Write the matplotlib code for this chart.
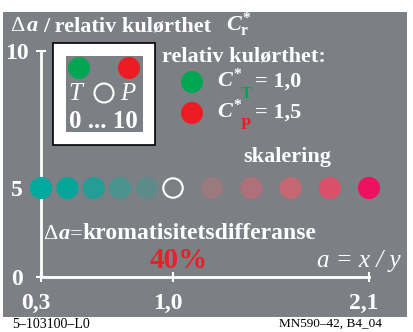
import numpy as np
import matplotlib
matplotlib.use("Agg")
import matplotlib.pyplot as plt
from matplotlib.patches import Rectangle, Circle
from matplotlib import font_manager

# ---------------- data ----------------
x_values = [0.3, 0.44, 0.58, 0.72, 0.86, 1.0, 1.22, 1.44, 1.66, 1.88, 2.1]
y_row = [5] * len(x_values)
dot_colors = ["#00a99d", "#05a59a", "#249d96", "#4a938f", "#5f8a8a", "none",
              "#9a7a7e", "#ae717a", "#c46973", "#d9506a", "#ee1160"]
x_ticks = [0.3, 1.0, 2.1]
x_tick_labels = ["0,3", "1,0", "2,1"]
y_ticks = [0, 5, 10]
y_tick_labels = ["0", "5", "10"]
x_knots = [0.3, 1.0, 2.1]      # piecewise axis scale knots
x_knot_pos = [0, 132, 328]
y_knots = [0, 5, 10]
y_knot_pos = [0, 89, 226]

W, H = 413, 332
BG = "#7c7f84"

names = {f.name for f in font_manager.fontManager.ttflist}
serif_list = [n for n in ["Liberation Serif", "Nimbus Roman", "Times New Roman", "DejaVu Serif"] if n in names]
SF = serif_list[0] if serif_list else "DejaVu Serif"
plt.rcParams["font.family"] = "serif"
plt.rcParams["font.serif"] = serif_list + ["DejaVu Serif"]
plt.rcParams["mathtext.fontset"] = "custom"
plt.rcParams["mathtext.rm"] = SF + ":bold"
plt.rcParams["mathtext.it"] = SF + ":italic:bold"
plt.rcParams["mathtext.bf"] = SF + ":bold"

fig = plt.figure(figsize=(W / 100, H / 100), dpi=100)
fig.patch.set_facecolor("white")

# overlay in pixel coords
ov = fig.add_axes([0, 0, 1, 1], zorder=0)
ov.set_xlim(0, W)
ov.set_ylim(H, 0)
ov.axis("off")
ov.add_patch(Rectangle((3, 12), 404, 305, facecolor=BG, edgecolor="none"))

def T(x, y, s, size=16, color="white", weight="bold", style="normal", ha="left", va="baseline", **kw):
    ov.text(x, y, s, fontsize=size, color=color, fontweight=weight, fontstyle=style,
            ha=ha, va=va, **kw)

# title
T(10, 31, "Δ", weight="normal")
T(27, 31, "a", style="italic")
T(43, 31, "/ relativ kulørthet")
T(226, 31, r"$C^{*}_{\mathrm{r}}$")

# legend box
ov.add_patch(Rectangle((53, 43), 102, 102, facecolor="white", edgecolor="black", lw=1.2))
ov.add_patch(Rectangle((66, 56), 77, 76, facecolor=BG, edgecolor="none"))
ov.add_patch(Circle((79, 68), 11, facecolor="#00a651", edgecolor="none"))
ov.add_patch(Circle((129, 68), 11, facecolor="#ed1c24", edgecolor="none"))
ov.add_patch(Circle((104, 93), 9.5, facecolor="none", edgecolor="white", lw=1.5))
T(75, 100, "T", size=18, style="italic", weight="normal", ha="center")
T(128, 100, "P", size=18, style="italic", weight="normal", ha="center")
T(103, 128, "0 ... 10", size=18, ha="center")

# legend right
T(162, 62, "relativ kulørthet:")
ov.add_patch(Circle((192, 82), 11, facecolor="#00a651", edgecolor="none"))
ov.add_patch(Circle((192, 113), 11, facecolor="#ed1c24", edgecolor="none"))
for yb, sub, col, val in [(87, "T", "#00a651", "= 1,0"), (118, "P", "#ed1c24", "= 1,5")]:
    T(217, yb, r"$C^{*}$")
    T(246, yb + 11, sub, size=12, color=col, ha="center")
    T(255, yb, val)

T(243, 162, "skalering")
T(43, 239, "Δ", weight="normal")
T(59, 239, "a", style="italic")
T(70, 239, "=", weight="normal")
T(82, 239, "kromatisitetsdifferanse", size=17)
T(150, 268, "40%", size=21, color="#e8202a")
T(317, 267, "a = x / y", size=18, style="italic", weight="normal")

T(12, 328, "5–103100–L0", size=10, weight="normal", color="black")
T(382, 327, "MN590–42, B4_04", size=9.5, weight="normal", color="black", ha="right")

# main axes
ax = fig.add_axes([41 / W, 55 / H, 328 / W, 226 / H], zorder=1)
ax.patch.set_alpha(0)
fx = lambda v: np.interp(v, x_knots, x_knot_pos)
ix = lambda v: np.interp(v, x_knot_pos, x_knots)
fy = lambda v: np.interp(v, y_knots, y_knot_pos)
iy = lambda v: np.interp(v, y_knot_pos, y_knots)
ax.set_xscale("function", functions=(fx, ix))
ax.set_yscale("function", functions=(fy, iy))
ax.set_xlim(0.3, 2.1)
ax.set_ylim(0, 10)
for s in ["top", "right"]:
    ax.spines[s].set_visible(False)
for s in ["left", "bottom"]:
    ax.spines[s].set_color("white")
    ax.spines[s].set_linewidth(2)
ax.set_xticks(x_ticks)
ax.set_yticks(y_ticks)
ax.set_xticklabels([])
ax.set_yticklabels([])
ax.minorticks_off()
ax.tick_params(direction="inout", length=7, width=1.5, color="white")

filled = [i for i, c in enumerate(dot_colors) if c != "none"]
ax.scatter([x_values[i] for i in filled], [y_row[i] for i in filled],
           s=16 ** 2, c=[dot_colors[i] for i in filled], linewidths=0, clip_on=False, zorder=3)
ax.scatter([x_values[i] for i in range(len(x_values)) if dot_colors[i] == "none"],
           [y_row[i] for i in range(len(x_values)) if dot_colors[i] == "none"],
           s=14 ** 2, facecolors="none", edgecolors="white", linewidths=1.5, clip_on=False, zorder=3)

for xv, lab in zip(x_ticks, x_tick_labels):
    ax.annotate(lab, xy=(xv, 0), xycoords=("data", "axes fraction"), xytext=(-5, -32),
                textcoords="offset pixels", ha="center", va="baseline", color="white",
                fontsize=17, fontweight="bold", annotation_clip=False)
for yv, lab in zip(y_ticks, y_tick_labels):
    ax.annotate(lab, xy=(0, yv), xycoords=("axes fraction", "data"), xytext=(-24, -8),
                textcoords="offset pixels", ha="center", va="baseline", color="white",
                fontsize=17, fontweight="bold", annotation_clip=False)

fig.savefig("out.png", dpi=100)
